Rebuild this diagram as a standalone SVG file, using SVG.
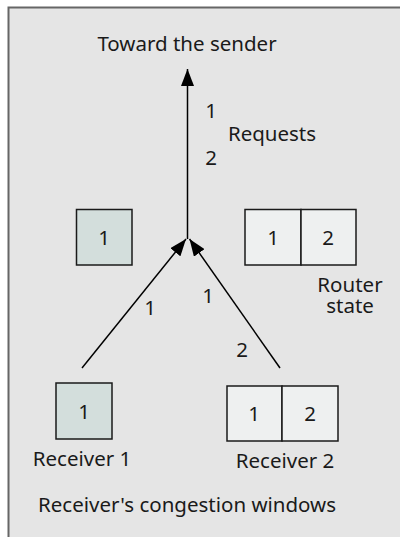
<svg xmlns="http://www.w3.org/2000/svg" width="400" height="537" viewBox="0 0 400 537">
<defs>
<style>
text{font-family:"Noto Sans","Open Sans","DejaVu Sans",sans-serif;font-size:20.5px;fill:#1a1a1a;text-anchor:middle}
.dark{fill:#d3dedc;stroke:#1a1a1a;stroke-width:1.5}
.light{fill:#eef0f0;stroke:#1a1a1a;stroke-width:1.5}
.ln{stroke:#000;stroke-width:1.5;fill:none;marker-end:url(#ah)}
</style>
<marker id="ah" viewBox="0 0 17 13" refX="17" refY="6.5" markerWidth="17" markerHeight="13" markerUnits="userSpaceOnUse" orient="auto">
<path d="M0,0 L17,6.5 L0,13 Z" fill="#000"/>
</marker>
</defs>
<rect x="0" y="0" width="400" height="537" fill="#fff"/>
<rect x="8.5" y="7.5" width="400" height="540" fill="#e5e5e5" stroke="#666" stroke-width="2"/>
<g id="connectors">
<line class="ln" x1="187.5" y1="239" x2="187.5" y2="69"/>
<line class="ln" x1="82" y1="368" x2="186" y2="239"/>
<line class="ln" x1="280" y1="368" x2="189.5" y2="239"/>
</g>
<g id="sender"><text x="187" y="51">Toward the sender</text></g>
<g id="requests">
<text x="211" y="118">1</text>
<text x="272" y="141">Requests</text>
<text x="211" y="165">2</text>
</g>
<g id="labels-links">
<text x="150" y="315">1</text>
<text x="208" y="303">1</text>
<text x="242" y="357">2</text>
</g>
<g id="router-left">
<rect class="dark" x="76.5" y="209.5" width="55.5" height="55.5"/>
<text x="104" y="245">1</text>
</g>
<g id="router-right">
<rect class="light" x="245" y="209.5" width="56" height="55.5"/>
<rect class="light" x="301" y="209.5" width="55" height="55.5"/>
<text x="273" y="245">1</text>
<text x="328" y="245">2</text>
<text x="350" y="292"><tspan x="350">Router</tspan><tspan x="350" dy="21">state</tspan></text>
</g>
<g id="receiver1">
<rect class="dark" x="56" y="383" width="56" height="56"/>
<text x="84" y="419">1</text>
<text x="82" y="466">Receiver 1</text>
</g>
<g id="receiver2">
<rect class="light" x="227" y="386" width="55" height="55"/>
<rect class="light" x="282" y="386" width="56" height="55"/>
<text x="254" y="421">1</text>
<text x="310" y="421">2</text>
<text x="285" y="468">Receiver 2</text>
</g>
<g id="caption"><text x="187" y="512">Receiver's congestion windows</text></g>
</svg>
